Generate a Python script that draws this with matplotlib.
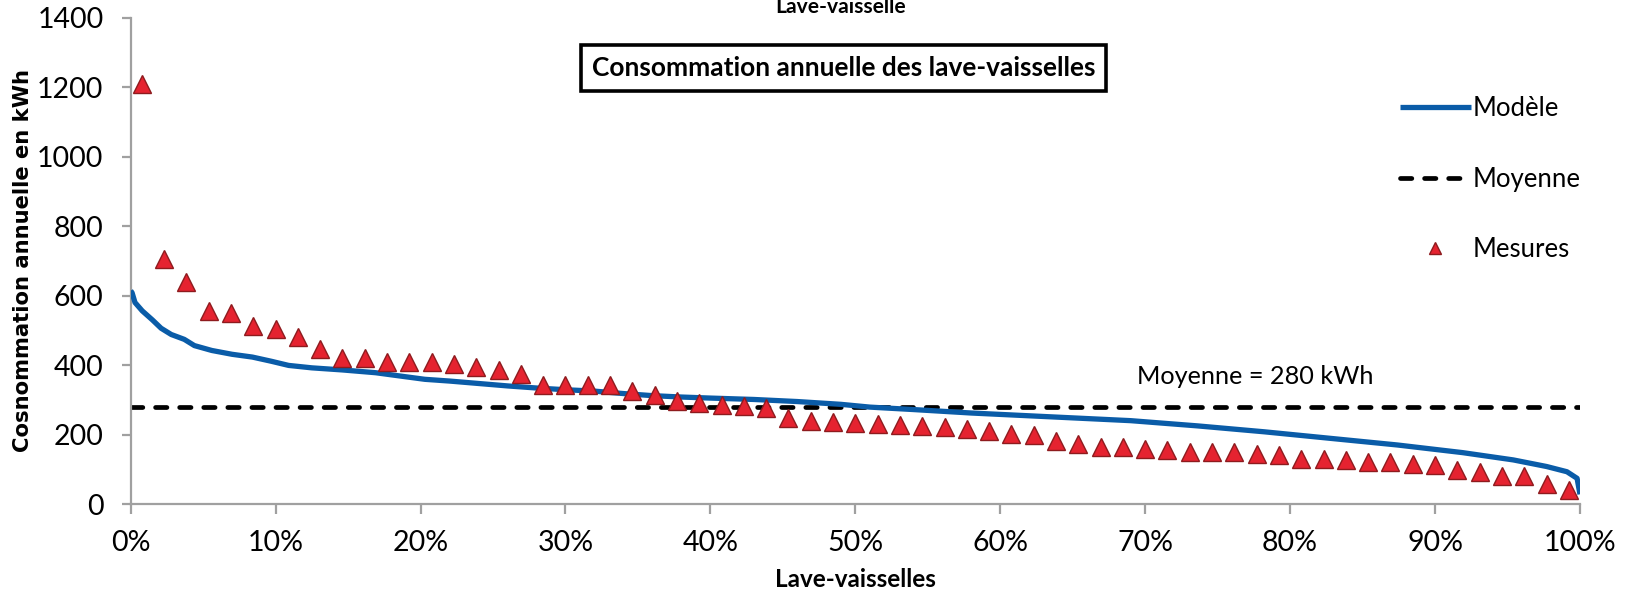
import numpy as np
import matplotlib
matplotlib.use("Agg")
import matplotlib.pyplot as plt
from matplotlib.ticker import FuncFormatter

# Annual consumption of the measured dishwashers, sorted from highest to lowest (kWh)
mesures_kwh = [
    1208, 704, 640, 557, 549, 513, 504, 480, 446, 421,
    421, 410, 410, 408, 404, 393, 386, 374, 344, 344,
    343, 343, 325, 314, 297, 290, 285, 282, 276, 248,
    240, 236, 233, 229, 227, 226, 221, 216, 210, 201,
    199, 182, 173, 164, 164, 157, 156, 149, 149, 149,
    143, 141, 131, 129, 128, 121, 121, 114, 113, 98,
    93, 82, 82, 57, 41,
]

# Model duration curve: share of the dishwasher stock (%) vs annual consumption (kWh)
modele_pct = [
    0, 0.1, 0.3, 0.8, 1.5, 2.1, 2.8, 3.7, 4.4, 5.6,
    7.0, 8.4, 9.7, 10.9, 12.5, 14.6, 16.9, 18.5, 20.3, 22.0,
    24.0, 26.0, 28.0, 30.0, 32.0, 34.0, 36.0, 38.0, 40.0, 43.0,
    46.0, 49.0, 51.0, 54.0, 58.0, 62.0, 65.0, 69.0, 73.6, 78.2,
    82.8, 87.4, 91.9, 95.4, 97.7, 99.1, 99.8, 100.0,
]
modele_kwh = [
    614, 608, 580, 556, 530, 506, 488, 474, 456, 442,
    431, 423, 411, 399, 392, 386, 378, 369, 359, 354,
    347, 340, 334, 329, 325, 318, 312, 308, 305, 301,
    295, 287, 279, 272, 262, 254, 248, 240, 225, 208,
    189, 170, 148, 127, 108, 93, 74, 28,
]

MOYENNE_KWH = 280

y_ticks = [0, 200, 400, 600, 800, 1000, 1200, 1400]
x_ticks = [0, 10, 20, 30, 40, 50, 60, 70, 80, 90, 100]

BLUE = "#0A5CA8"
RED = "#E52330"
DARK_RED = "#8E1B1E"
AXIS_GREY = "#A0A0A0"

plt.rcParams["font.family"] = ["Lato", "DejaVu Sans"]

# measured points are placed at the middle of their rank in the sorted sample
n = len(mesures_kwh)
mesures_pct = [100.0 * (i + 0.5) / n for i in range(n)]

fig = plt.figure(figsize=(16.25, 5.93), dpi=100)
ax = fig.add_axes([0.0804, 0.1500, 0.8919, 0.8203])

line_mod, = ax.plot(modele_pct, modele_kwh, color=BLUE, lw=3.8,
                    solid_capstyle="butt", solid_joinstyle="round",
                    zorder=3, label="Modèle")
line_moy, = ax.plot([0, 100], [MOYENNE_KWH, MOYENNE_KWH], color="black", lw=3.4,
                    linestyle=(0, (2.4, 2.7)), dash_capstyle="round",
                    zorder=2, label="Moyenne")
pts, = ax.plot(mesures_pct, mesures_kwh, linestyle="none", marker="^",
               markersize=12.5, markerfacecolor=RED, markeredgecolor=DARK_RED,
               markeredgewidth=1.0, zorder=4, label="Mesures")

ax.text(77.6, 366, f"Moyenne = {MOYENNE_KWH} kWh", ha="center", va="center",
        fontsize=18.2)

ax.set_xlim(0, 100)
ax.set_ylim(0, 1400)
ax.set_xticks(x_ticks)
ax.set_yticks(y_ticks)
ax.xaxis.set_major_formatter(FuncFormatter(lambda v, _: f"{v:.0f}%"))

for side in ("top", "right"):
    ax.spines[side].set_visible(False)
for side in ("left", "bottom"):
    ax.spines[side].set_color(AXIS_GREY)
    ax.spines[side].set_linewidth(1.6)
ax.tick_params(axis="both", colors=AXIS_GREY, width=1.6, labelcolor="black",
               labelsize=20.5)
ax.tick_params(axis="y", length=6.5, pad=13)
ax.tick_params(axis="x", length=7, pad=11.5)

ax.set_xlabel("Lave-vaisselles", fontsize=17.5, fontweight="bold", labelpad=9)
ax.set_ylabel("Cosnommation annuelle en kWh", fontsize=15.2, fontweight="bold",
              family="DejaVu Sans", labelpad=3)

# chart title, partly pushed off the top edge
fig.text(0.517, 0.978, "Lave-vaisselle", ha="center", va="baseline",
         fontsize=15.1, fontweight="bold")

fig.text(0.519, 0.886, "Consommation annuelle des lave-vaisselles",
         ha="center", va="center", fontsize=18.9, fontweight="bold",
         bbox=dict(boxstyle="square,pad=0.42", fc="white", ec="black", lw=2.6))

fig.legend(handles=[line_mod, line_moy, pts], loc="center left",
           bbox_to_anchor=(0.8535, 0.698), frameon=False, fontsize=18.5,
           handlelength=2.77, handletextpad=0.08, labelspacing=1.76,
           borderpad=0, markerscale=0.7, numpoints=1)

fig.savefig("out.png", dpi=100)
